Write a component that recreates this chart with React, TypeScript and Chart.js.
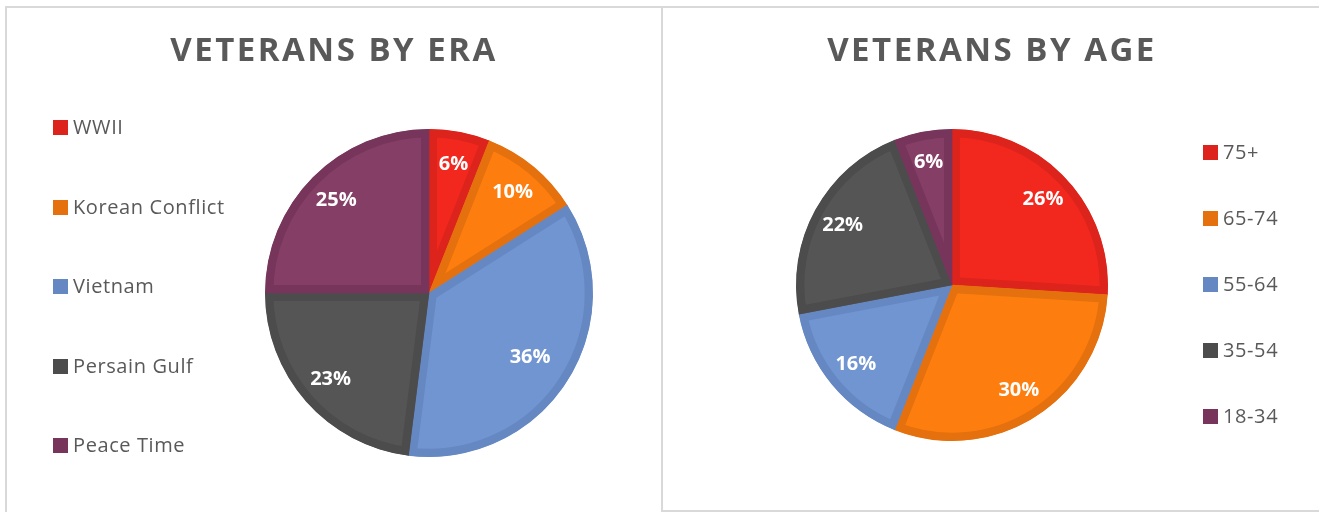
import React, { useEffect, useRef } from "react";
import { Chart, registerables } from "chart.js";

Chart.register(...registerables);

const eraLabels = ["WWII", "Korean Conflict", "Vietnam", "Persain Gulf", "Peace Time"];
const eraValues = [6, 10, 36, 23, 25];

const ageLabels = ["75+", "65-74", "55-64", "35-54", "18-34"];
const ageValues = [26, 30, 16, 22, 6];

const fillColors = ["#F2281F", "#FD7E0F", "#7195D1", "#555555", "#853F66"];
const borderColors = ["#DC241C", "#E5700E", "#6688C2", "#4C4C4C", "#77355B"];

const TEXT = "#595959";
const FONT = "'Open Sans', Lato, sans-serif";

const pctLabelPlugin = {
  id: "pctLabels",
  afterDatasetsDraw(chart: any) {
    const ctx = chart.ctx;
    const meta = chart.getDatasetMeta(0);
    const data = chart.data.datasets[0].data as number[];
    ctx.save();
    ctx.fillStyle = "#FFFFFF";
    ctx.font = `bold 20px ${FONT}`;
    ctx.textAlign = "center";
    ctx.textBaseline = "middle";
    meta.data.forEach((arc: any, i: number) => {
      const { x, y, startAngle, endAngle, outerRadius } = arc.getProps(
        ["x", "y", "startAngle", "endAngle", "outerRadius"],
        true
      );
      const mid = (startAngle + endAngle) / 2;
      const frac = endAngle - startAngle > 2 ? 0.73 : 0.8;
      const r = outerRadius * frac;
      ctx.fillText(`${data[i]}%`, x + Math.cos(mid) * r, y + Math.sin(mid) * r);
    });
    ctx.restore();
  },
};

type PieProps = {
  labels: string[];
  values: number[];
  width: number;
  height: number;
  radius: number;
  padding: { left: number; right: number; top: number; bottom: number };
};

function PieCanvas({ labels, values, width, height, radius, padding }: PieProps) {
  const ref = useRef<HTMLCanvasElement | null>(null);
  useEffect(() => {
    if (!ref.current) return;
    const chart = new Chart(ref.current, {
      type: "pie",
      data: {
        labels,
        datasets: [
          {
            data: values,
            backgroundColor: fillColors,
            borderColor: borderColors,
            borderWidth: 8,
            borderAlign: "inner",
            hoverOffset: 0,
            offset: 0,
          } as any,
        ],
      },
      options: {
        responsive: false,
        animation: false,
        radius,
        layout: { padding },
        plugins: {
          legend: { display: false },
          title: { display: false },
          tooltip: { enabled: false },
        },
      } as any,
      plugins: [pctLabelPlugin],
    });
    return () => chart.destroy();
  }, []);
  return <canvas ref={ref} width={width} height={height} style={{ width, height, display: "block" }} />;
}

function Legend({ labels, left, top, gap, textLeft }: { labels: string[]; left: number; top: number; gap: number; textLeft: number }) {
  return (
    <>
      {labels.map((l, i) => (
        <div key={l} style={{ position: "absolute", left, top: top + i * gap, height: 15 }}>
          <div style={{ position: "absolute", left: 0, top: 0, width: 15, height: 15, background: borderColors[i] }} />
          <div
            style={{
              position: "absolute",
              left: textLeft,
              top: -7,
              whiteSpace: "nowrap",
              font: `20px ${FONT}`,
              letterSpacing: "0.6px",
              color: TEXT,
              lineHeight: "28px",
            }}
          >
            {l}
          </div>
        </div>
      ))}
    </>
  );
}

function Title({ text, center }: { text: string; center: number }) {
  return (
    <div
      style={{
        position: "absolute",
        left: center - 300,
        width: 600,
        top: 26,
        textAlign: "center",
        font: `bold 33px ${FONT}`,
        color: TEXT,
        letterSpacing: "2.5px",
        lineHeight: "46px",
      }}
    >
      {text}
    </div>
  );
}

export default function App() {
  return (
    <div style={{ position: "absolute", left: 0, top: 0, width: 1319, height: 512, overflow: "hidden", background: "#fff" }}>
      <div style={{ position: "absolute", left: 5, top: 6, width: 658, height: 520, border: "2px solid #D9D9D9", boxSizing: "border-box" }} />
      <div style={{ position: "absolute", left: 661, top: 6, width: 680, height: 506, border: "2px solid #D9D9D9", boxSizing: "border-box" }} />

      <div style={{ position: "absolute", left: 7, top: 8 }}>
        <PieCanvas
          labels={eraLabels}
          values={eraValues}
          width={654}
          height={504}
          radius={164}
          padding={{ left: 200, right: 10, top: 76, bottom: 10 }}
        />
      </div>
      <div style={{ position: "absolute", left: 663, top: 8 }}>
        <PieCanvas
          labels={ageLabels}
          values={ageValues}
          width={656}
          height={502}
          radius={156}
          padding={{ left: 10, right: 88, top: 62, bottom: 10 }}
        />
      </div>

      <Title text="VETERANS BY ERA" center={334} />
      <Title text="VETERANS BY AGE" center={992} />

      <Legend labels={eraLabels} left={53} top={120} gap={79.5} textLeft={20} />
      <Legend labels={ageLabels} left={1203} top={145} gap={66} textLeft={20} />
    </div>
  );
}
